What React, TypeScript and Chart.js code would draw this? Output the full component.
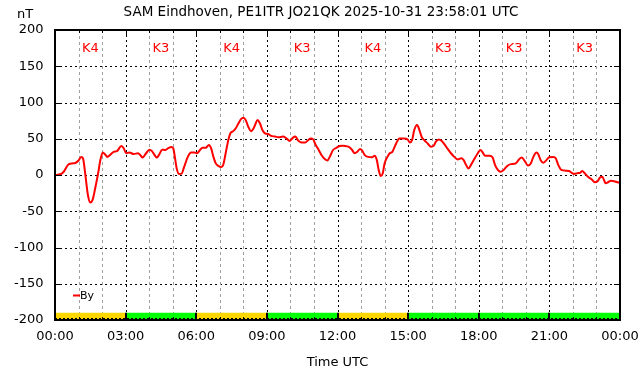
import React, { useEffect, useRef } from "react";
import { Chart, registerables } from "chart.js";

Chart.register(...registerables);

const TITLE = "SAM Eindhoven, PE1ITR JO21QK 2025-10-31 23:58:01 UTC";
const Y_UNIT = "nT";
const X_TITLE = "Time UTC";
const SERIES_NAME = "By";

const xTickLabels = ["00:00", "03:00", "06:00", "09:00", "12:00", "15:00", "18:00", "21:00", "00:00"];
const yTickValues = [-200, -150, -100, -50, 0, 50, 100, 150, 200];

const kLabels = ["K4", "K3", "K4", "K3", "K4", "K3", "K3", "K3"];
const kColors: Record<string, string> = { K4: "#ffd700", K3: "#00ff00" };

const hours = [
  0.0, 0.23, 0.37, 0.55, 0.72, 0.86, 1.0, 1.12, 1.19, 1.29, 1.4, 1.5, 1.6, 1.71, 1.83, 1.93,
  2.03, 2.14, 2.22, 2.35, 2.49, 2.63, 2.82, 2.92, 3.02, 3.16, 3.34, 3.53, 3.62, 3.72, 3.87,
  4.01, 4.12, 4.23, 4.33, 4.43, 4.55, 4.69, 4.83, 4.96, 5.03, 5.1, 5.17, 5.27, 5.38, 5.49,
  5.64, 5.78, 5.92, 6.03, 6.16, 6.26, 6.4, 6.54, 6.63, 6.73, 6.83, 6.94, 7.05, 7.15, 7.25,
  7.36, 7.45, 7.57, 7.68, 7.79, 7.9, 8.0, 8.1, 8.21, 8.33, 8.42, 8.5, 8.6, 8.71, 8.81, 8.92,
  9.06, 9.18, 9.35, 9.49, 9.69, 9.83, 9.97, 10.11, 10.21, 10.32, 10.46, 10.63, 10.75, 10.86,
  10.96, 11.06, 11.2, 11.34, 11.46, 11.57, 11.67, 11.81, 11.95, 12.09, 12.23, 12.42, 12.52,
  12.62, 12.73, 12.84, 12.96, 13.04, 13.16, 13.3, 13.47, 13.58, 13.67, 13.75, 13.84, 13.92,
  14.0, 14.12, 14.22, 14.33, 14.49, 14.63, 14.84, 14.98, 15.07, 15.17, 15.26, 15.38, 15.48,
  15.58, 15.69, 15.83, 15.97, 16.09, 16.18, 16.3, 16.43, 16.54, 16.68, 16.82, 16.96, 17.1,
  17.25, 17.36, 17.46, 17.56, 17.67, 17.81, 17.96, 18.07, 18.17, 18.27, 18.45, 18.59, 18.69,
  18.81, 18.92, 19.06, 19.21, 19.36, 19.57, 19.71, 19.83, 19.95, 20.09, 20.21, 20.32, 20.45,
  20.53, 20.63, 20.74, 20.85, 20.99, 21.17, 21.27, 21.37, 21.51, 21.69, 21.84, 21.95, 22.05,
  22.19, 22.3, 22.4, 22.5, 22.64, 22.78, 22.93, 23.04, 23.15, 23.25, 23.32, 23.39, 23.49,
  23.61, 23.75, 23.89, 23.97,
];

const byValues = [
  0, 1, 4.5, 14, 16, 16.5, 20, 25, 23, 0, -28, -38, -34, -18, 2, 21,
  31, 28, 25, 28, 32, 33, 40, 37, 30, 31, 29, 30, 27.5, 24, 30,
  35, 33, 27.5, 24, 28.5, 35, 34.5, 37.5, 38.5, 36, 23, 9, 1.5, 2, 11.5,
  25, 31, 31, 30, 34.5, 37.5, 37.5, 41.5, 37, 25, 16, 12.5, 11, 14.5, 30,
  48, 57.5, 60.5, 64.5, 71, 77, 79, 76, 66.5, 60.5, 63.5, 69, 76, 71, 62, 57.5,
  56.5, 54, 53, 52, 53, 50.5, 47, 51.5, 53, 48, 45, 45, 48, 50.5,
  49.5, 42.5, 34.5, 26.5, 22, 20, 25, 34.5, 37.5, 40, 40.5, 39.5, 38,
  34.5, 30, 32, 36, 34, 27.5, 25, 24.5, 26.5, 20.5, 7, -1.5, 2,
  16, 25, 30, 32, 43.5, 50.5, 50.5, 49, 45, 48.5, 62, 69, 62,
  52, 48, 43.5, 39, 40.5, 46, 49, 47, 42.5, 36, 30, 25, 21.5,
  23, 20.5, 14, 9, 14, 22, 30, 34.5, 31, 26.5, 26.5, 24, 14,
  7, 4.5, 7, 12.5, 15, 16, 21.5, 24, 19.5, 13, 16, 25, 31,
  28.5, 20.5, 17, 19.5, 24.5, 25, 23, 14.5, 7, 6, 5.5, 3, 1.5,
  2.5, 3, 5.5, 2.5, -2.5, -5.5, -10, -9, -3.5, -2.5, -7, -11.5, -10,
  -8, -8.5, -10, -10.5,
];

const FONT = "'DejaVu Sans', sans-serif";

const decorPlugin = {
  id: "decor",
  beforeDatasetsDraw(chart: any) {
    const { ctx, chartArea, scales } = chart;
    const xs = scales.x;
    const ys = scales.y;
    const { left, right, top, bottom } = chartArea;
    ctx.save();
    ctx.lineWidth = 1;
    // horizontal grid
    ctx.strokeStyle = "#000";
    ctx.setLineDash([2, 3]);
    for (const v of yTickValues) {
      const y = Math.round(ys.getPixelForValue(v)) + 0.5;
      ctx.beginPath();
      ctx.moveTo(left, y);
      ctx.lineTo(right, y);
      ctx.stroke();
    }
    // vertical grid
    for (let h = 1; h < 24; h++) {
      const x = Math.round(xs.getPixelForValue(h)) + 0.5;
      if (h % 3 === 0) {
        ctx.strokeStyle = "#000";
        ctx.setLineDash([2, 3]);
      } else {
        ctx.strokeStyle = "#a0a0a0";
        ctx.setLineDash([3, 3]);
      }
      ctx.beginPath();
      ctx.moveTo(x, top);
      ctx.lineTo(x, bottom);
      ctx.stroke();
    }
    ctx.setLineDash([]);
    // K bars
    const yb0 = ys.getPixelForValue(-190);
    const yb1 = ys.getPixelForValue(-200);
    kLabels.forEach((k, i) => {
      const x0 = xs.getPixelForValue(i * 3);
      const x1 = xs.getPixelForValue(i * 3 + 3);
      ctx.fillStyle = kColors[k];
      ctx.fillRect(x0, yb0, x1 - x0, yb1 - yb0);
    });
    ctx.strokeStyle = "#000";
    ctx.lineWidth = 2;
    for (let i = 1; i < kLabels.length; i++) {
      const x = Math.round(xs.getPixelForValue(i * 3));
      ctx.beginPath();
      ctx.moveTo(x, yb0);
      ctx.lineTo(x, yb1);
      ctx.stroke();
    }
    ctx.lineWidth = 1;
    ctx.strokeStyle = "#000";
    ctx.setLineDash([2, 2]);
    ctx.beginPath();
    ctx.moveTo(left, Math.round(yb1) - 1.5);
    ctx.lineTo(right, Math.round(yb1) - 1.5);
    ctx.stroke();
    ctx.setLineDash([]);
    // K labels
    ctx.fillStyle = "#ff0000";
    ctx.font = `13px ${FONT}`;
    ctx.textAlign = "center";
    ctx.textBaseline = "middle";
    kLabels.forEach((k, i) => {
      const x = xs.getPixelForValue(i * 3 + 1.5);
      ctx.fillText(k, x, top + 19);
    });
    // legend
    ctx.strokeStyle = "#ff0000";
    ctx.lineWidth = 2;
    ctx.beginPath();
    ctx.moveTo(left + 18, bottom - 24.5);
    ctx.lineTo(left + 25, bottom - 24.5);
    ctx.stroke();
    ctx.fillStyle = "#000";
    ctx.font = `11px ${FONT}`;
    ctx.textAlign = "left";
    ctx.fillText(SERIES_NAME, left + 25, bottom - 23.5);
    // unit
    ctx.font = `13px ${FONT}`;
    ctx.textAlign = "center";
    ctx.fillText(Y_UNIT, 25, 15);
    ctx.restore();
  },
  afterDatasetsDraw(chart: any) {
    const { ctx, chartArea, scales } = chart;
    const xs = scales.x;
    const ys = scales.y;
    const { left, right, top, bottom } = chartArea;
    ctx.save();
    ctx.strokeStyle = "#000";
    ctx.lineWidth = 1;
    // inner tick marks
    for (let h = 1; h < 24; h++) {
      const x = Math.round(xs.getPixelForValue(h)) + 0.5;
      const len = h % 3 === 0 ? 6 : 3;
      ctx.beginPath();
      ctx.moveTo(x, top);
      ctx.lineTo(x, top + len);
      ctx.moveTo(x, bottom);
      ctx.lineTo(x, bottom - len);
      ctx.stroke();
    }
    for (const v of yTickValues) {
      const y = Math.round(ys.getPixelForValue(v)) + 0.5;
      ctx.beginPath();
      ctx.moveTo(left, y);
      ctx.lineTo(left + 6, y);
      ctx.moveTo(right, y);
      ctx.lineTo(right - 6, y);
      ctx.stroke();
    }
    ctx.lineWidth = 2;
    ctx.strokeRect(left, top, right - left, bottom - top);
    ctx.restore();
  },
};

export default function App() {
  const ref = useRef<HTMLCanvasElement | null>(null);

  useEffect(() => {
    if (!ref.current) return;
    Chart.defaults.font.family = FONT;
    const points = hours.map((h, i) => ({ x: h, y: byValues[i] }));
    const chart = new Chart(ref.current, {
      type: "line",
      data: {
        datasets: [
          {
            label: SERIES_NAME,
            data: points,
            borderColor: "#ff0000",
            borderWidth: 2,
            pointRadius: 0,
            fill: false,
            cubicInterpolationMode: "monotone",
          },
        ],
      },
      options: {
        animation: false,
        responsive: false,
        maintainAspectRatio: false,
        layout: { padding: 0 },
        plugins: {
          legend: { display: false },
          tooltip: { enabled: false },
          title: {
            display: true,
            text: TITLE,
            color: "#000",
            font: { family: FONT, size: 13.5, weight: "normal" },
            padding: { top: 4.5, bottom: 9.3 },
          },
        },
        scales: {
          x: {
            type: "linear",
            min: 0,
            max: 24,
            afterFit: (s: any) => {
              s.height = 56;
              s.paddingLeft = 0;
              s.paddingRight = 0;
            },
            afterBuildTicks: (s: any) => {
              s.ticks = xTickLabels.map((_, i) => ({ value: i * 3 }));
            },
            ticks: {
              autoSkip: false,
              maxRotation: 0,
              color: "#000",
              font: { family: FONT, size: 13 },
              padding: 9,
              callback: (_v: any, i: number) => xTickLabels[i],
            },
            grid: { display: false, drawTicks: false },
            border: { display: false },
            title: {
              display: true,
              text: X_TITLE,
              color: "#000",
              font: { family: FONT, size: 13 },
              padding: { top: 0, bottom: 6 },
            },
          },
          y: {
            type: "linear",
            min: -200,
            max: 200,
            afterFit: (s: any) => {
              s.width = 55;
            },
            afterBuildTicks: (s: any) => {
              s.ticks = yTickValues.map((v) => ({ value: v }));
            },
            ticks: {
              autoSkip: false,
              color: "#000",
              font: { family: FONT, size: 13 },
              padding: 11.5,
              callback: (v: any) => String(v),
            },
            grid: { display: false, drawTicks: false },
            border: { display: false },
          },
          yRight: {
            type: "linear",
            position: "right",
            min: -200,
            max: 200,
            afterFit: (s: any) => {
              s.width = 22;
            },
            ticks: { display: false },
            grid: { display: false, drawTicks: false },
            border: { display: false },
          },
        },
      },
      plugins: [decorPlugin],
    });
    return () => chart.destroy();
  }, []);

  return (
    <div style={{ position: "fixed", left: 0, top: 0, width: 642, height: 376, background: "#fff" }}>
      <canvas ref={ref} width={642} height={376} style={{ width: 642, height: 376 }} />
    </div>
  );
}
